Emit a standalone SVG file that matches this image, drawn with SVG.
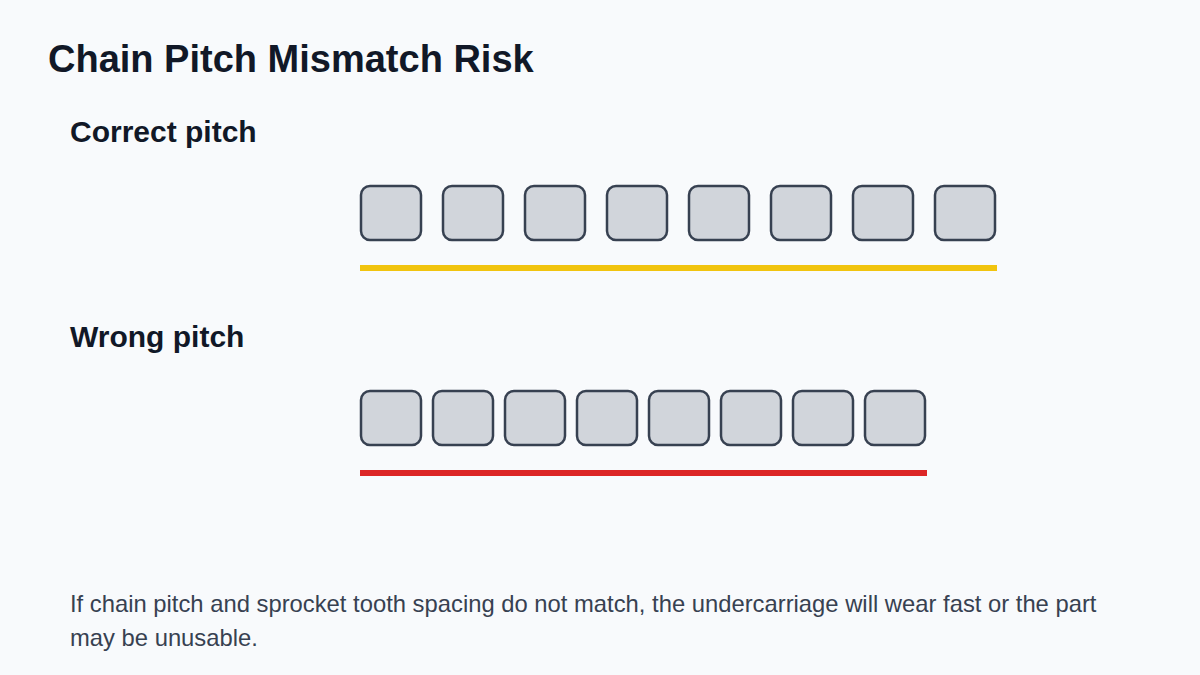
<svg xmlns="http://www.w3.org/2000/svg" width="1200" height="675" viewBox="0 0 1200 675">
<style>
.title{font-family:"Liberation Sans",Arial,sans-serif;font-weight:700;font-size:38px;fill:#111827}
.sub{font-family:"Liberation Sans",Arial,sans-serif;font-weight:700;font-size:30px;fill:#111827}
.foot{font-family:"Liberation Sans",Arial,sans-serif;font-size:23.8px;fill:#374151}
.link{fill:#d1d5db;stroke:#374151;stroke-width:2.5}
</style>
<defs>
<rect id="lk" class="link" x="1" y="1" width="60" height="54" rx="9"/>
</defs>
<rect width="1200" height="675" fill="#f8fafc"/>
<text class="title" x="48" y="72">Chain Pitch Mismatch Risk</text>
<g id="correct">
<text class="sub" x="70" y="142">Correct pitch</text>
<g id="correct-links" transform="translate(360,185)">
<use href="#lk" x="0"/><use href="#lk" x="82"/><use href="#lk" x="164"/><use href="#lk" x="246"/><use href="#lk" x="328"/><use href="#lk" x="410"/><use href="#lk" x="492"/><use href="#lk" x="574"/>
</g>
<rect x="360" y="265" width="637" height="6" fill="#f1c40f"/>
</g>
<g id="wrong">
<text class="sub" x="70" y="347">Wrong pitch</text>
<g id="wrong-links" transform="translate(360,390)">
<use href="#lk" x="0"/><use href="#lk" x="72"/><use href="#lk" x="144"/><use href="#lk" x="216"/><use href="#lk" x="288"/><use href="#lk" x="360"/><use href="#lk" x="432"/><use href="#lk" x="504"/>
</g>
<rect x="360" y="470" width="567" height="6" fill="#dc2626"/>
</g>
<text class="foot" x="70" y="612">If chain pitch and sprocket tooth spacing do not match, the undercarriage will wear fast or the part</text>
<text class="foot" x="70" y="646">may be unusable.</text>
</svg>
